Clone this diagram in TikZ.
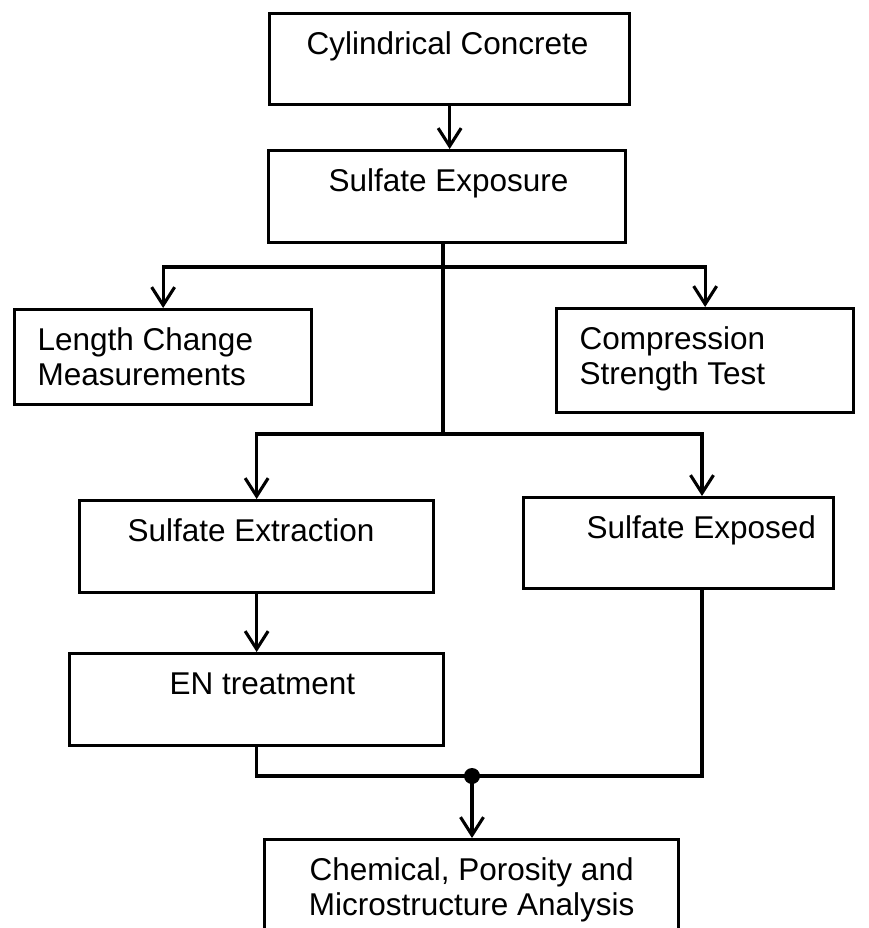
\documentclass[tikz,border=0pt]{standalone}
\usepackage{fontspec}
\setmainfont{Liberation Sans}
\usetikzlibrary{arrows.meta,calc}
\newcommand{\bx}[4]{\parbox[t][#2][t]{#1}{#3\rule{0pt}{41pt}#4}}
\newcommand{\cen}{\centering}
\newcommand{\lft}[1]{\raggedright\leftskip=#1\relax}
\tikzset{
  box/.style={draw, line width=3.3pt, inner sep=0pt, anchor=north west,
    font=\fontsize{31.5}{35}\selectfont},
  conn/.style={line width=3.1pt},
  arr/.style={conn, -{Straight Barb[length=18pt,width=23pt]}}
}
\begin{document}
\begin{tikzpicture}[x=1pt,y=-1pt]
\useasboundingbox (0,0) rectangle (868,928);
\fill[white] (0,0) rectangle (868,928);
\node[box] (cyl)  at (268,12)  {\bx{360pt}{91pt}{\lft{37pt}}{Cylindrical Concrete}};
\node[box] (expo) at (267,149) {\bx{357pt}{92pt}{\lft{60pt}}{Sulfate Exposure}};
\node[box] (len)  at (13,308)  {\bx{297pt}{95pt}{\lft{23pt}}{Length Change\\Measurements}};
\node[box] (comp) at (555,307) {\bx{297pt}{104pt}{\lft{23pt}}{Compression\\Strength Test}};
\node[box] (extr) at (78,499)  {\bx{354pt}{92pt}{\lft{48pt}}{Sulfate Extraction}};
\node[box] (sexp) at (522,496) {\bx{310pt}{91pt}{\lft{63pt}}{Sulfate Exposed}};
\node[box] (en)   at (68,652)  {\bx{374pt}{92pt}{\lft{100pt}}{EN treatment}};
\node[box] (chem) at (263,838) {\bx{414pt}{100pt}{\cen}{Chemical, Porosity and\\Microstructure Analysis}};
\coordinate (t1) at (443,267);
\coordinate (t2) at (443,434);
\coordinate (b2) at (702,434);
\coordinate (m)  at (472,776);
\draw[arr] (cyl.south) -- (cyl.south |- expo.north);
\draw[conn] (expo.south -| t1) -- (t2);
\draw[arr] (t1) -| (len.north);
\draw[arr] (t1) -| (comp.north);
\draw[arr] (t2) -| (extr.north);
\draw[arr] (t2) -- (b2) -- (b2 |- sexp.north);
\draw[arr] (extr.south) -- (extr.south |- en.north);
\draw[conn] (en.south) |- (m);
\draw[conn] (b2 |- sexp.south) |- (m);
\fill (m) circle (8);
\draw[arr] (m) -- (m |- chem.north);
\end{tikzpicture}
\end{document}
